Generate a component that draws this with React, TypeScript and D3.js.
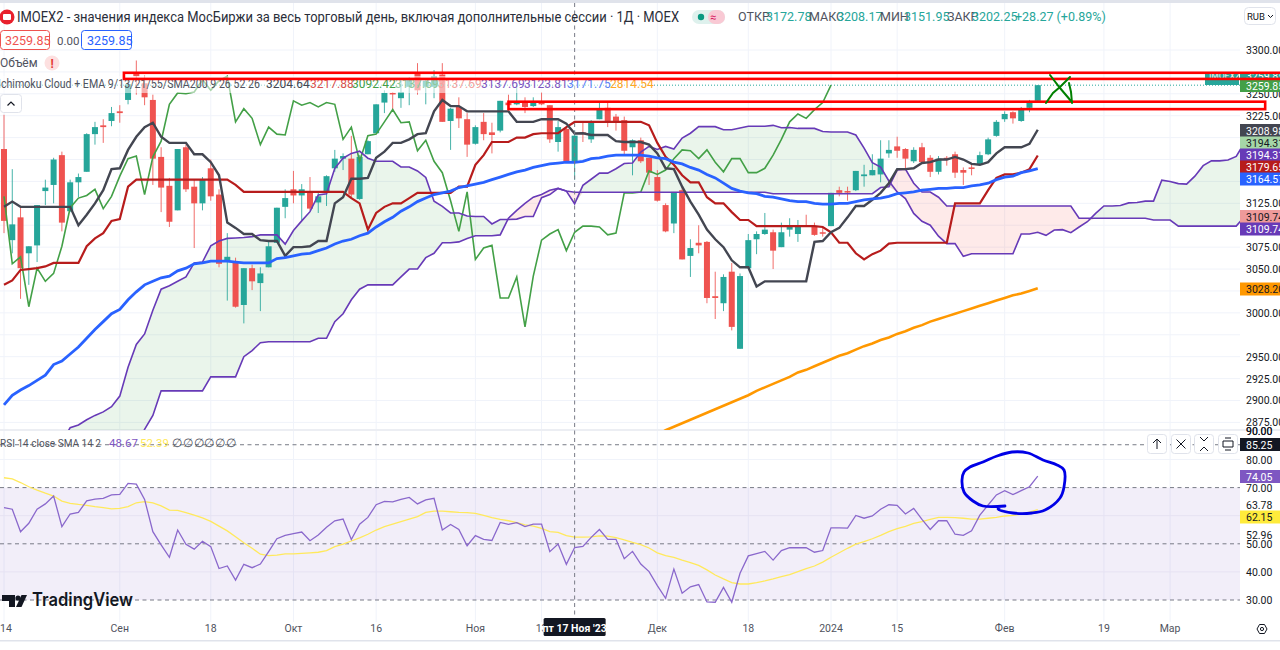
import React from "react";
import * as d3 from "d3";

const W = 1280, H = 650;
const FONT = "Roboto, 'Open Sans', sans-serif";

// ---- daily bars (IMOEX2) ----
const highs = [
  3226,3164,3122,3076,3123,3152,3177,3184,3152,3159,
  3205,3218,3221,3235,3237,3268,3288,3271,3249,3189,
  3154,3187,3192,3152,3155,3175,3141,3091,3063,3051,
  3055,3052,3081,3120,3141,3162,3147,3155,3139,3157,
  3186,3182,3202,3180,3197,3238,3254,3252,3266,3269,
  3285,3268,3277,3285,3234,3246,3228,3214,3228,3217,
  3242,3249,3260,3246,3246,3252,3237,3219,3212,3208.17,
  3218,3220,3240,3240,3227,3224,3198,3200,3177,3163,
  3125,3138,3144,3084,3100,3082,3047,3044,3057,3045,
  3090,3093,3114,3095,3103,3108,3106,3112,3103,3097,
  3137,3144,3144,3162,3169,3181,3197,3197,3201,3188,
  3189,3194,3180,3179,3179,3184,3166,3171,3184,3200,
  3220,3230,3230,3235,3243,3260,
];
const opens = [
  3187,3083,3109,3068,3077,3139,3146,3180,3116,3149,
  3161,3204,3214,3219,3230,3243,3273,3262,3243,3178,
  3145,3117,3189,3144,3125,3165,3135,3059,3058,3009,
  3051,3034,3052,3080,3121,3141,3134,3138,3126,3138,
  3165,3176,3176,3130,3181,3205,3240,3251,3245,3258,
  3273,3258,3258,3272,3219,3235,3221,3193,3218,3206,
  3208,3240,3238,3240,3236,3240,3237,3195,3210,3172.78,
  3206,3198,3221,3234,3224,3220,3189,3197,3177,3155,
  3123,3102,3140,3065,3080,3081,3019,3011,3047,2959,
  3051,3084,3090,3092,3075,3095,3090,3100,3099,3092,
  3099,3140,3139,3140,3156,3157,3158,3182,3190,3187,
  3173,3189,3177,3161,3177,3181,3163,3166,3170,3181,
  3202,3221,3229,3219,3234,3242,
];
const closes = [
  3105,3101,3051,3076,3123,3143,3175,3103,3149,3155,
  3204,3212,3212,3228,3228,3261,3270,3246,3176,3143,
  3104,3187,3141,3125,3152,3133,3056,3064,3007,3051,
  3036,3045,3076,3120,3131,3134,3141,3119,3133,3156,
  3176,3179,3135,3178,3196,3238,3251,3250,3252,3266,
  3254,3265,3270,3218,3233,3222,3192,3212,3204,3203,
  3242,3237,3240,3235,3240,3238,3198,3212,3173,3202.25,
  3204,3218,3232,3217,3218,3185,3197,3173,3160,3128,
  3093,3138,3061,3074,3077,3017,3017,3041,2984,3042,
  3083,3090,3095,3071,3092,3099,3099,3098,3089,3091,
  3137,3137,3138,3162,3158,3163,3176,3186,3185,3176,
  3186,3172,3161,3176,3176,3160,3160,3165,3180,3198,
  3218,3227,3222,3232,3240,3259.85,
];
const lows = [
  3091,3068,3016,3032,3058,3123,3125,3093,3115,3132,
  3161,3192,3194,3213,3217,3238,3249,3237,3146,3115,
  3098,3117,3138,3074,3117,3128,3052,3014,3006,2988,
  3026,3002,3052,3080,3108,3125,3106,3117,3114,3122,
  3161,3163,3132,3129,3181,3205,3228,3231,3234,3237,
  3249,3238,3245,3218,3186,3211,3178,3192,3197,3182,
  3206,3231,3237,3228,3235,3237,3194,3184,3172,3151.95,
  3195,3194,3221,3212,3208,3180,3157,3171,3146,3127,
  3092,3091,3061,3041,3068,3011,2993,3002,2980,2959,
  3051,3067,3089,3050,3075,3087,3081,3098,3088,3087,
  3099,3133,3128,3139,3144,3157,3149,3177,3177,3165,
  3171,3171,3155,3158,3168,3154,3146,3157,3170,3180,
  3201,3218,3216,3218,3229,3241,
];

// ---- Ichimoku ----
const tenkan = [
  3121,3127,3121,3121,3121,3121,3121,3121,3121,3100,
  3112,3125,3140,3164,3165,3186,3201,3212,3217,3201,
  3194,3194,3194,3181,3181,3172,3157,3103,3097,3090,
  3090,3083,3082,3082,3065,3075,3075,3076,3082,3082,
  3125,3132,3153,3153,3154,3177,3184,3194,3194,3198,
  3204,3205,3230,3243,3236,3236,3230,3230,3230,3230,
  3230,3230,3218,3218,3218,3221,3221,3221,3216,3204.64,
  3205,3203,3203,3203,3196,3195,3195,3195,3192,3182,
  3165,3164,3144,3127,3112,3095,3084,3075,3060,3052,
  3052,3030,3036,3036,3036,3036,3036,3036,3081,3082,
  3092,3097,3109,3122,3122,3129,3137,3148,3164,3164,
  3165,3171,3172,3175,3175,3178,3175,3170,3169,3172,
  3182,3189,3189,3189,3193,3208.98,
];
const kijun = [
  3032,3037,3049,3050,3051,3053,3057,3057,3057,3057,
  3076,3085,3091,3105,3107,3144,3152,3152,3152,3152,
  3152,3152,3152,3152,3152,3152,3152,3152,3146,3138,
  3138,3138,3138,3138,3138,3138,3138,3138,3138,3138,
  3138,3138,3131,3125,3095,3114,3121,3125,3125,3131,
  3137,3137,3137,3137,3137,3144,3144,3169,3180,3195,
  3195,3195,3200,3200,3204,3205,3205,3205,3212,3217.88,
  3218,3218,3218,3218,3218,3218,3218,3218,3214,3194,
  3178,3169,3157,3149,3149,3132,3125,3125,3115,3106,
  3106,3099,3099,3099,3099,3099,3099,3099,3099,3098,
  3092,3080,3080,3068,3061,3067,3071,3079,3080,3080,
  3080,3080,3080,3080,3080,3125,3125,3125,3125,3140,
  3154,3158,3158,3160,3164,3179.65,
];
const spanAHead = [
  2790,2797,2805,2812,2820,2830,2840,2852,2869,2872,
  2878,2883,2887,2893,2905,2938,2964,2976,3003,3027,
  3031,3036,3041,3057,3058,
];
const spanB = [
  2760,2765,2770,2775,2780,2785,2790,2795,2800,2805,
  2810,2815,2820,2825,2830,2840,2852,2867,2883,2911,
  2911,2911,2911,2911,2911,2927,2927,2927,2927,2950,
  2957,2966,2967,2967,2967,2967,2967,2967,2971,2971,
  2990,2999,3015,3027,3032,3032,3032,3032,3041,3050,
  3050,3063,3068,3080,3080,3081,3085,3088,3088,3088,
  3089,3108,3117,3125,3132,3135,3140,3142,3139,3137.69,
  3137.69,3137.69,3137.69,3137.69,3137.69,3137.69,3137.69,3137.69,3137.69,3137.69,
  3137.69,3137.69,3137.69,3137.69,3137.69,3137.69,3137.69,3137.69,3137.69,3137.69,
  3137.69,3137.69,3137.69,3136,3136,3136,3136,3136,3136,3136,
  3136,3136,3136,3136,3136,3136,3143,3144,3163,3164,
  3148,3138,3138,3132,3122,3122,3122,3122,3122,3122,
  3122,3122,3122,3122,3122,3122,3122,3122,3122,3122,
  3108,3108,3108,3108,3108,3108,3108,3108,3108,3106,
  3106,3106,3099,3099,3099,3099,3099,3099,3099,3099,
  3109.74,
];
const DISPLACEMENT = 25;

// ---- moving averages ----
const ema = [
  2895,2906,2912,2917,2923,2929,2941,2945,2953,2961,
  2971,2981,2990,2999,3004,3015,3024,3032,3036,3040,
  3042,3048,3051,3056,3057,3059,3059,3059,3058,3057,
  3057,3057,3057,3062,3063,3065,3067,3068,3071,3074,
  3078.6,3082,3084,3088,3091,3098,3104,3109,3116,3121,
  3127,3131,3135,3137,3139,3143,3145,3147,3149,3152,
  3155,3158,3161,3163,3166,3168,3170,3171,3172,3171.75,
  3173,3176,3177,3179,3180,3180,3180,3180,3179,3177,
  3176,3172,3170,3166,3163,3158,3154,3148,3142,3139,
  3137,3136,3133,3132,3130,3128,3127,3127,3125,3124,
  3124,3125,3125,3127,3129,3130,3131,3133,3136,3137,
  3138,3140,3141,3142,3142,3143,3143,3145,3146,3148,
  3152,3155,3156,3160,3162,3164.57,
];
const SMA_START = 69;
const sma200 = [
  2814.54,2820,2825,2829,2834,2838,2843,2847,2851,2856,2861,
  2866,2870,2874,2878,2882,2886,2890,2894,2898,2902,
  2906,2911,2915,2919,2923,2927,2932,2935,2939,2943,
  2947,2951,2954,2958,2962,2965,2969,2972,2976,2979,
  2983,2986,2990,2993,2996,2999,3002,3005,3008,3011,
  3014,3017,3020,3022,3025,3028.2,
];

// ---- RSI ----
const rsi = [
  62.9,62.3,54.3,57.3,62.3,64.2,67,56.1,60.6,61.2,
  65.3,65.9,66.2,67.4,67.6,71.5,71.2,65.8,54.3,49.6,
  45.2,54.9,49.8,48.1,50.9,49,41.2,42.1,37.1,42.7,
  41.5,42.8,47.2,51.8,53,53.6,54.2,51.1,53.1,55.9,
  58.2,58.8,51.5,57,59.4,63.9,65.1,64.9,65.8,66.5,
  64.2,65.6,66.2,54.9,56.9,55.1,49.3,52.9,51.6,51.2,
  57.6,56.9,57.5,56.1,57,57,47.2,49.9,42.7,48.67,
  49.1,52.3,55.1,51.6,51.6,44.7,47.3,42.8,40.1,35.1,
  30.6,41,32.4,34.7,35.5,29.3,29.2,34.5,29.2,39.5,
  45.7,46.5,47.3,44.2,47.6,48.6,48.6,48.6,47,47.6,
  55.7,55.7,55.6,60.1,59.1,59.9,62.3,63.9,63.7,60.6,
  62.6,58.7,55.1,58.2,58.2,53.4,53,54.6,60.2,63.8,
  67.4,68.9,67.5,68.9,70.3,74.05,
];
const rsiMa = [
  73.5,73.1,71.8,70.3,69.1,68,67,65.2,64.4,64,
  63.7,63.2,62.9,62.4,62.6,63.2,64.6,65,64.6,63.5,
  62,61.9,61.1,60.2,59.2,58,56.3,54.6,52.5,50.4,
  48.4,46.3,45.8,46,46.4,46.4,46.6,46.8,47,47.6,
  49,49.9,51,52.1,53.4,54.9,56.1,57,57.9,58.8,
  59.7,61.2,61.6,61.6,61.4,61.2,61.1,60.8,60.1,59.3,
  58.7,58.2,57.5,56.7,56.3,55.5,54.3,54.1,52.9,52.39,
  52.4,52.5,52.8,52.7,52.2,51.4,50.5,49.7,48.5,46.8,
  45.8,45.2,44.2,43.3,42.3,40.7,38.9,37.5,36.2,35.7,
  35.7,36.2,36.8,37.5,38.3,39,40.1,41.2,42.1,43.5,
  45.2,46.8,48.4,49.9,50.8,51.8,53,54.3,55.4,56.2,
  57.3,57.9,58.7,59.4,59.4,59.3,59.1,58.8,58.8,59.1,
  59.4,59.9,60.1,60.6,61.3,62.15,
];

// ---- axes ----
const timeTickIdx = [0, 14, 25, 35, 45, 57, 65, 79, 90, 100, 108, 121, 133, 141];
const timeTickLabels = ["14", "Сен", "18", "Окт", "16", "Ноя", "13", "Дек", "18", "2024", "15", "Фев", "19", "Мар"];
const priceGrid = d3.range(2875, 3301, 25);
const priceLabels = [3300, 3250, 3225, 3125, 3075, 3050, 3000, 2950, 2925, 2900, 2875];
const rsiGrid = [80, 60, 40];
const rsiDashed = [70, 50, 30, 85.25];
const rsiLabels = [90, 80, 70, 50, 40, 30];
const rsiExtraLabels = [63.78, 52.96];
const CROSS_IDX = 69;

const C = {
  up: "#26a69a", down: "#ef5350", tenkan: "#434651", kijun: "#b71c1c", ema: "#2962ff",
  sma: "#ff9800", lag: "#43a047", span: "#673ab7", rsi: "#8a68cc", rsiMa: "#ffe95c",
  grid: "#f0f3fa", text: "#131722", muted: "#50535e",
};

// scales
const x = d3.scaleLinear().domain([0, 150]).range([4, 4 + 8.27 * 150]);
const y = d3.scaleLinear().domain([2875, 3300]).range([422.4, 50]);
const yR = d3.scaleLinear().domain([30, 80]).range([600, 459.5]);

const spanA = [
  ...spanAHead,
  ...tenkan.map((t, i) => (t + kijun[i]) / 2),
];
const lagging = closes.slice(DISPLACEMENT);

const line = (vals: number[], start = 0, sy: (v: number) => number = y) =>
  d3.line<number>().x((_, i) => x(i + start)).y((v) => sy(v))(vals) || "";

const greenArea = d3.area<number>()
  .x((_, i) => x(i)).y1((_, i) => y(spanA[i])).y0((_, i) => y(Math.min(spanA[i], spanB[i])))(spanA) || "";
const redArea = d3.area<number>()
  .x((_, i) => x(i)).y1((_, i) => y(spanB[i])).y0((_, i) => y(Math.min(spanA[i], spanB[i])))(spanA) || "";

// Hand annotations
const zone1 = { top: 3274, bottom: 3267, from: 14.5 };
const zone2 = { top: 3241, bottom: 3232.5, from: 61, to: 152.5 };
const penX = [
  [[1046,103],[1053,93],[1060,87],[1070,77]],
  [[1050,75],[1060,88],[1071,101]],
  [[1069,83],[1071,92],[1072,103]],
];
const penCircle = [
  [1005,506],[983,506],[973,501],[964,492],[962,480],[964,472],[970,467],[983,462],[997,456],[1012,452],
  [1028,453],[1043,460],[1057,465],[1064,470],[1064,487],[1060,498],[1045,510],[1032,513],[1013,513],[998,509],[1000,507],
];
const legendVals: [string, number, string][] = [
  ["3204.64", 266, "#434651"], ["3217.88", 310, "#d9534f"], ["3092.42", 352, "#43a047"],
  ["3137.69", 395, "#8fc79a"], ["3137.69", 438, "#f2a3a0"], ["3137.69", 481, "#7e57c2"],
  ["3123.81", 524, "#7e57c2"], ["3171.75", 567, "#5b82f5"], ["2814.54", 610, "#ffa726"],
];
const tags: [string, number, string, string][] = [
  ["3259.85", 85.5, "#43a047", "#fff"],
  ["3208.98", 130.5, "#434651", "#fff"],
  ["3194.31", 143, "#a5d6a7", "#131722"],
  ["3194.31", 155, "#673ab7", "#fff"],
  ["3179.65", 167, "#b71c1c", "#fff"],
  ["3164.57", 179, "#2962ff", "#fff"],
  ["3109.74", 216.5, "#ef9a9a", "#131722"],
  ["3109.74", 229, "#673ab7", "#fff"],
  ["3028.20", 289, "#ff9800", "#131722"],
];
const rsiTags: [string, number, string, string][] = [
  ["85.25", 444.5, "#131722", "#fff"],
  ["74.05", 476.5, "#7e57c2", "#fff"],
  ["62.15", 517, "#ffeb3b", "#131722"],
];

const Btn = ({ cx, children }: { cx: number; children: React.ReactNode }) => (
  <g>
    <rect x={cx - 9.5} y={434.5} width={19} height={19} rx={3} fill="#fff" stroke="#e0e3eb" />
    {children}
  </g>
);

export default function App() {
  const path = d3.line();
  return (
    <>
      <style>{`html,body{margin:0;padding:0;background:#fff;overflow:hidden}`}</style>
      <svg width={W} height={H} viewBox={`0 0 ${W} ${H}`} style={{ display: "block", fontFamily: FONT }}>
        <defs>
          <clipPath id="mainClip"><rect x={0} y={3} width={1240} height={427} /></clipPath>
          <clipPath id="rsiClip"><rect x={0} y={431} width={1240} height={190} /></clipPath>
        </defs>
        <rect width={W} height={H} fill="#fff" />
        <rect width={W} height={3} fill="#e0e3eb" />

        {/* grids */}
        {timeTickIdx.map((t, k) => (
          <line key={k} x1={x(t)} x2={x(t)} y1={3} y2={622} stroke={C.grid} />
        ))}
        {priceGrid.map((p) => (
          <line key={p} x1={0} x2={1240} y1={y(p)} y2={y(p)} stroke={C.grid} />
        ))}
        <rect x={0} y={429} width={1280} height={2} fill="#eceef3" />

        {/* main pane */}
        <g clipPath="url(#mainClip)">
          <path d={greenArea} fill="#43a047" fillOpacity={0.11} />
          <path d={redArea} fill="#f44336" fillOpacity={0.11} />
          {closes.map((c, i) => {
            const col = c >= opens[i] ? C.up : C.down;
            const t = y(Math.max(c, opens[i])), b = y(Math.min(c, opens[i]));
            return (
              <g key={i}>
                <line x1={x(i)} x2={x(i)} y1={y(highs[i])} y2={y(lows[i])} stroke={col} strokeOpacity={0.85} />
                <rect x={x(i) - 3} y={t} width={6} height={Math.max(1.5, b - t)} fill={col} />
              </g>
            );
          })}
          <line x1={0} x2={1240} y1={y(3259.85)} y2={y(3259.85)} stroke={C.up} strokeDasharray="1 2" />
          <path d={line(lagging)} fill="none" stroke={C.lag} strokeWidth={1.6} />
          <path d={line(spanA)} fill="none" stroke={C.span} strokeWidth={1.6} />
          <path d={line(spanB)} fill="none" stroke={C.span} strokeWidth={1.6} />
          <path d={line(sma200, SMA_START)} fill="none" stroke={C.sma} strokeWidth={2.6} />
          <path d={line(kijun)} fill="none" stroke={C.kijun} strokeWidth={2.2} />
          <path d={line(tenkan)} fill="none" stroke={C.tenkan} strokeWidth={2.4} />
          <path d={line(ema)} fill="none" stroke={C.ema} strokeWidth={2.8} />
        </g>

        {/* rsi pane */}
        <rect x={0} y={yR(70)} width={1240} height={yR(30) - yR(70)} fill="#7e57c2" fillOpacity={0.1} />
        {rsiGrid.map((v) => (
          <line key={v} x1={0} x2={1240} y1={yR(v)} y2={yR(v)} stroke={v === 80 ? C.grid : "#e6e2f2"} />
        ))}
        {rsiDashed.map((v) => (
          <line key={v} x1={0} x2={1240} y1={yR(v)} y2={yR(v)} stroke="#787b86" strokeDasharray="4 3.5" />
        ))}
        <g clipPath="url(#rsiClip)">
          <path d={line(rsiMa, 0, yR)} fill="none" stroke={C.rsiMa} strokeWidth={1.3} />
          <path d={line(rsi, 0, yR)} fill="none" stroke={C.rsi} strokeWidth={1.3} />
        </g>

        {/* crosshair */}
        <line x1={x(CROSS_IDX)} x2={x(CROSS_IDX)} y1={3} y2={622} stroke="#787b86" strokeDasharray="4 3.5" />

        {/* header */}
        <circle cx={7} cy={17} r={7.5} fill="#e8202c" />
        <rect x={3} y={14} width={8} height={6} rx={1} fill="#fff" />
        <text x={17} y={22} fontSize={14} fill="#2a2e39" textLength={662} lengthAdjust="spacingAndGlyphs">
          IMOEX2 - значения индекса МосБиржи за весь торговый день, включая дополнительные сессии · 1Д · MOEX
        </text>
        <rect x={692} y={10} width={33} height={14} rx={7} fill="#def1ed" />
        <rect x={708} y={10} width={17} height={14} rx={7} fill="#f9c9d4" />
        <circle cx={701} cy={17} r={3.2} fill="#089981" />
        <text x={710} y={21} fontSize={11} fill="#d81b60">≈</text>
        <g fontSize={12.5}>
          <text x={738} y={21} fill="#50535e">ОТКР</text>
          <text x={766} y={21} fill={C.up}>3172.78</text>
          <text x={809} y={21} fill="#50535e">МАКС</text>
          <text x={837} y={21} fill={C.up}>3208.17</text>
          <text x={880} y={21} fill="#50535e">МИН</text>
          <text x={904} y={21} fill={C.up}>3151.95</text>
          <text x={947} y={21} fill="#50535e">ЗАКР</text>
          <text x={972} y={21} fill={C.up}>3202.25</text>
          <text x={1015} y={21} fill={C.up}>+28.27 (+0.89%)</text>
        </g>
        <rect x={1244.5} y={7.5} width={31} height={17} rx={4} fill="#fff" stroke="#e0e3eb" />
        <text x={1247} y={20} fontSize={9.5} fill="#131722">RUB</text>
        <path d="M1268 15l2.5 2.5 2.5-2.5" fill="none" stroke="#131722" />

        <rect x={0.5} y={30.5} width={49} height={19} rx={3} fill="#fff" stroke="#ef5350" />
        <text x={5} y={45} fontSize={12.5} fill="#ef5350">3259.85</text>
        <text x={57} y={45} fontSize={11.5} fill="#50535e">0.00</text>
        <rect x={81.5} y={30.5} width={50} height={19} rx={3} fill="#fff" stroke="#2962ff" />
        <text x={87} y={45} fontSize={12.5} fill="#2962ff">3259.85</text>

        <text x={0} y={67} fontSize={12} fill="#50535e">Объём</text>
        <circle cx={52} cy={63} r={7.5} fill="#fde0e0" />
        <text x={50.4} y={67.5} fontSize={12} fontWeight={700} fill="#e53935">!</text>

        <rect x={0} y={76} width={652} height={17} fill="#fff" fillOpacity={0.55} />
        <text x={-2} y={88} fontSize={12} fill="#50535e" textLength={262} lengthAdjust="spacingAndGlyphs">
          Ichimoku Cloud + EMA 9/13/21/55/SMA200 9 26 52 26
        </text>
        {legendVals.map(([t, lx, col], k) => (
          <text key={k} x={lx} y={88} fontSize={12} fill={col}>{t}</text>
        ))}
        <rect x={0.5} y={94.5} width={21} height={18} rx={3} fill="#fff" stroke="#e0e3eb" />
        <path d="M7.5 105.5l3.5-3.5 3.5 3.5" fill="none" stroke="#131722" strokeWidth={1.2} />

        {/* price axis */}
        <rect x={1205} y={72} width={34} height={13} fill="#26a69a" />
        <rect x={1240} y={72} width={40} height={13} fill="#26a69a" />
        <text x={1209} y={79} fontSize={8.5} fill="#fff">IMOEX2</text>
        <text x={1246} y={80} fontSize={10.5} fill="#fff">3259.85</text>
        {priceLabels.map((p) => (
          <text key={p} x={1246} y={y(p) + 4} fontSize={10.5} fill={C.text}>{p.toFixed(2)}</text>
        ))}
        {tags.map(([t, ty, bg, fg], k) => (
          <g key={k}>
            <rect x={1240} y={ty - 6.5} width={40} height={13} fill={bg} />
            <text x={1246} y={ty + 4} fontSize={10.5} fill={fg}>{t}</text>
          </g>
        ))}

        {/* rsi axis */}
        {[...rsiLabels, ...rsiExtraLabels].map((v) => (
          <text key={v} x={1246} y={yR(v) + 4} fontSize={10.5} fill={C.text}>{v.toFixed(2)}</text>
        ))}
        <text x={1246} y={yR(90) + 4} fontSize={10.5} fill={C.text}>90.00</text>
        {rsiTags.map(([t, ty, bg, fg], k) => (
          <g key={k}>
            <rect x={1240} y={ty - 6.5} width={40} height={13} fill={bg} />
            <text x={1246} y={ty + 4} fontSize={10.5} fill={fg}>{t}</text>
          </g>
        ))}

        {/* rsi legend + buttons */}
        <text x={0} y={447} fontSize={11.5} fill="#50535e" textLength={101} lengthAdjust="spacingAndGlyphs">RSI 14 close SMA 14 2</text>
        <text x={109} y={447} fontSize={11.5} fill="#7e57c2">48.67</text>
        <text x={140} y={447} fontSize={11.5} fill="#ffe95c">52.39</text>
        <text x={172} y={447} fontSize={11.5} fill="#50535e" textLength={64}>∅ ∅ ∅ ∅ ∅ ∅</text>

        <Btn cx={1157}><path d="M1157 449v-10M1153 443l4-4 4 4" fill="none" stroke="#131722" /></Btn>
        <Btn cx={1181}><path d="M1176.5 439.5l9 9M1185.5 439.5l-9 9" fill="none" stroke="#131722" /></Btn>
        <Btn cx={1204}><path d="M1200 437l4 4 4-4M1200 451l4-4 4 4" fill="none" stroke="#131722" /></Btn>
        <Btn cx={1228}><path d="M1223 441h10v6h-10zM1225 438h6M1225 450h6" fill="none" stroke="#131722" /></Btn>

        {/* logo */}
        <path d="M2 595h13v12h-6v-6H2z" fill="#131722" />
        <circle cx={18} cy={598} r={2.6} fill="#131722" />
        <path d="M21.5 595H27l-5.5 12h-5.5z" fill="#131722" />
        <text x={32} y={606} fontSize={18} fontWeight={600} fontFamily="Inter, Roboto, sans-serif" fill="#131722" textLength={101} lengthAdjust="spacingAndGlyphs">TradingView</text>

        {/* time axis */}
        {timeTickIdx.map((t, k) => (
          <text key={k} x={k === 0 ? 0 : x(t)} y={632} fontSize={10.5} fill={C.muted} textAnchor={k === 0 ? "start" : "middle"}>
            {timeTickLabels[k]}
          </text>
        ))}
        <rect x={x(CROSS_IDX) - 31} y={618} width={62} height={18} rx={1.5} fill="#131722" />
        <text x={x(CROSS_IDX)} y={632} fontSize={10.5} fontWeight={700} fill="#fff" textAnchor="middle">пт 17 Ноя '23</text>
        <rect x={0} y={640} width={W} height={1.5} fill="#e0e3eb" />
        <path d="M1257 629l2.5-4.5h5l2.5 4.5-2.5 4.5h-5z" fill="none" stroke="#131722" />
        <circle cx={1262} cy={629} r={1.6} fill="none" stroke="#131722" />

        {/* hand drawn annotation */}
        <rect x={x(zone1.from)} y={y(zone1.top)} width={W + 10 - x(zone1.from)} height={y(zone1.bottom) - y(zone1.top)} fill="none" stroke="#ff0000" strokeWidth={2.6} />
        <rect x={x(zone2.from)} y={y(zone2.top)} width={x(zone2.to) - x(zone2.from)} height={y(zone2.bottom) - y(zone2.top)} fill="none" stroke="#ff0000" strokeWidth={2.6} />
        {penX.map((s, k) => (
          <path key={k} d={path(s as [number, number][]) || ""} fill="none" stroke="#008000" strokeWidth={2} strokeLinecap="round" />
        ))}
        <path d={d3.line().curve(d3.curveCatmullRom)(penCircle as [number, number][]) || ""} fill="none" stroke="#0000e6" strokeWidth={2.8} strokeLinecap="round" />
      </svg>
    </>
  );
}
